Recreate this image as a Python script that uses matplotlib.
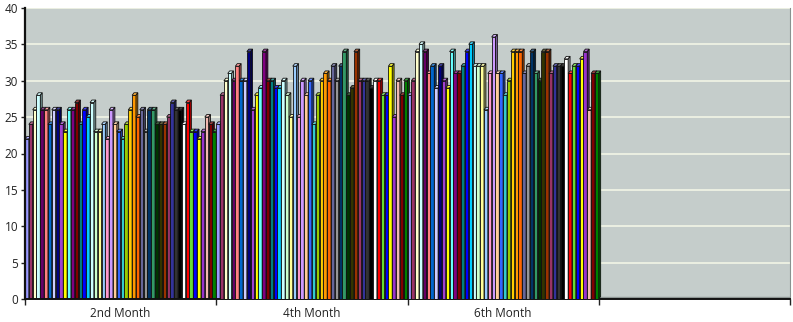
import numpy as np
import matplotlib
matplotlib.use("Agg")
import matplotlib.pyplot as plt
from matplotlib.patches import Rectangle, Polygon
from matplotlib.colors import to_rgb

categories = ["2nd Month", "4th Month", "6th Month", ""]

# one value per series (50 series) for each month
month2 = [22, 24, 26, 28, 26, 26, 24, 26, 26, 24, 23, 26, 26, 27, 24, 26, 25, 27, 23, 23,
          24, 22, 26, 24, 23, 22, 24, 26, 28, 25, 26, 23, 26, 26, 24, 24, 24, 25, 27, 26,
          26, 24, 27, 23, 23, 22, 23, 25, 24, 23]
month4 = [24, 28, 30, 31, 30, 32, 30, 30, 34, 26, 28, 29, 34, 30, 30, 29, 29, 30, 28, 25,
          32, 25, 30, 28, 30, 24, 28, 30, 31, 30, 32, 30, 32, 34, 28, 29, 34, 30, 30, 30,
          29, 30, 30, 28, 28, 32, 25, 30, 28, 30]
month6 = [28, 30, 34, 35, 34, 31, 32, 29, 32, 30, 29, 34, 31, 31, 32, 34, 35, 32, 32, 32,
          26, 31, 36, 31, 31, 28, 30, 34, 34, 34, 31, 32, 34, 31, 30, 34, 34, 31, 32, 32,
          32, 33, 31, 32, 32, 33, 34, 26, 31, 31]

series_colors = [
    "#9999FF", "#993366", "#FFFFCC", "#CCFFFF", "#660066", "#FF8080", "#0066CC", "#CCCCFF",
    "#000080", "#A040D0", "#FFFF00", "#66FFFF", "#800080", "#800000", "#008080", "#0000FF",
    "#00CCFF", "#CCFFFF", "#CCFFCC", "#FFFF99", "#99CCFF", "#FF99CC", "#CC99FF", "#FFCC99",
    "#3366FF", "#33CCCC", "#99CC00", "#FFCC00", "#FF9900", "#FF6600", "#666699", "#969696",
    "#003366", "#339966", "#003300", "#333300", "#993300", "#993366", "#333399", "#333333",
    "#000000", "#FFFFFF", "#FF0000", "#66DD33", "#0000FF", "#FFFF00", "#9933CC", "#F2B8B0",
    "#800000", "#008000",
]

groups = [month2, month4, month6]
n_series = len(series_colors)
w = 1.0 / n_series
dx = 0.5 * w   # fake 3d depth
dy = 0.35


def shade(c, f):
    r, g, b = to_rgb(c)
    if f > 1:
        return tuple(v + (1 - v) * (f - 1) for v in (r, g, b))
    return tuple(v * f for v in (r, g, b))


fig = plt.figure(figsize=(7.93, 3.22), dpi=100)
ax = fig.add_axes([25 / 793, 23 / 322, 765 / 793, 291 / 322])
ax.set_facecolor("#C5CDCB")

for y in range(5, 45, 5):
    ax.axhline(y, color="#EEF2E4", lw=1.3, zorder=1)
ax.axhspan(0, 0.3, color="#8E9694", zorder=1)

z = 2.0
for gi, vals in enumerate(groups):
    for k, v in enumerate(vals):
        x0 = gi + k * w
        c = series_colors[k]
        ax.add_patch(Rectangle((x0, 0), w, v, facecolor=c, edgecolor="#111111",
                               lw=0.6, zorder=z))
        ax.add_patch(Polygon([(x0, v), (x0 + dx, v + dy), (x0 + w + dx, v + dy), (x0 + w, v)],
                             facecolor=shade(c, 1.25), edgecolor="#111111", lw=0.6, zorder=z))
        ax.add_patch(Polygon([(x0 + w, 0), (x0 + w + dx, dy), (x0 + w + dx, v + dy), (x0 + w, v)],
                             facecolor=shade(c, 0.6), edgecolor="#111111", lw=0.6, zorder=z))
        z += 0.01

ax.set_xlim(0, 4)
ax.set_ylim(0, 40)
ax.set_yticks(range(0, 45, 5))
ax.set_xticks([0, 1, 2, 3, 4])
ax.set_xticklabels([])
ax.set_xticks([0.5, 1.5, 2.5, 3.5], minor=True)
ax.set_xticklabels(categories, minor=True)
ax.tick_params(axis="x", which="major", length=4, width=1, color="#222222")
ax.tick_params(axis="x", which="minor", length=0, pad=6)
ax.tick_params(axis="y", length=3, width=1, color="#222222", pad=2)
for lab in ax.get_yticklabels() + ax.get_xticklabels(minor=True):
    lab.set_fontfamily("Open Sans")
    lab.set_fontsize(8.5)
    lab.set_color("#222222")

ax.spines["top"].set_visible(False)
ax.spines["right"].set_color("#8A9290")
ax.spines["left"].set_color("#111111")
ax.spines["left"].set_linewidth(1.6)
ax.spines["bottom"].set_color("#111111")
ax.spines["bottom"].set_linewidth(1.4)

fig.savefig("out.png", dpi=100)
